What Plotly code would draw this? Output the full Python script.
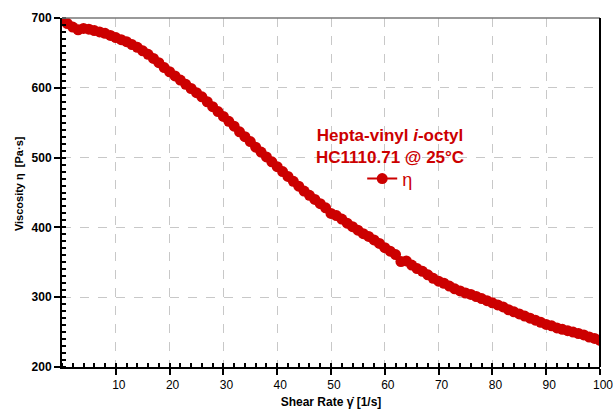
import plotly.graph_objects as go

shear_rate = [0.5, 1, 2, 3, 4, 5, 6, 7, 8, 9, 10, 11, 12, 13, 14, 15, 16, 17, 18, 19,
              20, 21, 22, 23, 24, 25, 26, 27, 28, 29, 30, 31, 32, 33, 34, 35, 36, 37, 38, 39,
              40, 41, 42, 43, 44, 45, 46, 47, 48, 49, 50, 51, 52, 53, 54, 55, 56, 57, 58, 59,
              60, 61, 62, 63, 64, 65, 66, 67, 68, 69, 70, 71, 72, 73, 74, 75, 76, 77, 78, 79,
              80, 81, 82, 83, 84, 85, 86, 87, 88, 89, 90, 91, 92, 93, 94, 95, 96, 97, 98, 99, 100]
viscosity = [696, 692, 687, 683, 685, 684, 682, 680, 678, 675, 672, 669, 666, 662, 658, 653, 648, 642, 636, 629,
             623, 617, 611, 605, 599, 593, 587, 580, 573, 566, 559, 552, 545, 537, 530, 523, 515, 508, 501, 494,
             487, 480, 473, 466, 459, 452, 446, 440, 434, 428, 420, 417, 412, 406, 401, 396, 391, 387, 382, 377,
             371, 366, 361, 351, 352, 346, 341, 337, 332, 327, 323, 320, 316, 312, 309, 306, 304, 301, 298, 295,
             292, 289, 286, 282, 279, 276, 273, 270, 267, 264, 261, 259, 256, 254, 252, 250, 248, 246, 243, 241, 238]

x_tickvals = [10, 20, 30, 40, 50, 60, 70, 80, 90, 100]
y_tickvals = [200, 300, 400, 500, 600, 700]

RED = "#CC0000"
FONT = "Liberation Sans, Arial, sans-serif"

fig = go.Figure()
fig.add_trace(go.Scatter(
    x=shear_rate, y=viscosity, mode="lines+markers", name="η",
    line=dict(color=RED, width=2),
    marker=dict(color=RED, size=11, line=dict(width=0)),
))

fig.update_layout(
    width=613, height=409,
    margin=dict(l=62, r=13, t=18, b=42, autoexpand=False),
    paper_bgcolor="white", plot_bgcolor="white",
    font=dict(family=FONT, color="black", size=12),
    showlegend=True,
    legend=dict(
        x=0.558, y=0.539, xanchor="left", yanchor="middle",
        bgcolor="rgba(0,0,0,0)",
        font=dict(family=FONT, color=RED, size=18),
        itemwidth=30,
    ),
    annotations=[
        dict(
            text="<b>Hepta-vinyl <i>i</i>-octyl<br>HC1110.71 @ 25°C</b>",
            xref="paper", yref="paper", x=0.61, y=0.633,
            xanchor="center", yanchor="middle", align="center", showarrow=False,
            font=dict(family=FONT, color=RED, size=17),
        ),
        dict(
            text="<b>Viscosity η  [Pa·s]</b>",
            xref="paper", yref="paper", x=0, y=0.524, xshift=-43,
            xanchor="center", yanchor="middle", textangle=-90, showarrow=False,
            font=dict(family=FONT, color="black", size=11),
        ),
    ],
    xaxis=dict(
        range=[0, 100], tickvals=x_tickvals, showgrid=True, automargin=False,
        gridcolor="#c8c8c8", griddash="dash", gridwidth=1,
        showline=True, linecolor="black", linewidth=2,
        ticks="outside", ticklen=6, tickwidth=2, tickcolor="black",
        ticklabelshift=3, ticklabeloverflow="allow",
        tickfont=dict(family=FONT, size=12, color="black"),
        minor=dict(dtick=2, tick0=0, ticks="inside", ticklen=4, tickwidth=2,
                   tickcolor="black", showgrid=False),
        zeroline=False,
        title=dict(text="<b>Shear Rate γ̇ [1/s]</b>", font=dict(family=FONT, size=12), standoff=12),
    ),
    yaxis=dict(
        range=[200, 700], tickvals=y_tickvals, showgrid=True, automargin=False,
        gridcolor="#c8c8c8", griddash="dash", gridwidth=1,
        showline=True, linecolor="black", linewidth=2,
        ticks="outside", ticklen=6, tickwidth=2, tickcolor="black",
        tickfont=dict(family=FONT, size=12, color="black", weight="bold"),
        minor=dict(dtick=10, tick0=200, ticks="inside", ticklen=4, tickwidth=2,
                   tickcolor="black", showgrid=False),
        zeroline=False,
    ),
    shapes=[
        dict(type="line", xref="paper", yref="paper", x0=0, x1=1, y0=1, y1=1,
             line=dict(color="#777777", width=1.5)),
        dict(type="line", xref="paper", yref="paper", x0=1, x1=1, y0=0, y1=1,
             line=dict(color="black", width=2)),
    ],
)

fig.write_html(
    "out.html",
    config={"displayModeBar": False},
    post_script="document.body.style.margin='0';document.body.style.overflow='hidden';",
)
